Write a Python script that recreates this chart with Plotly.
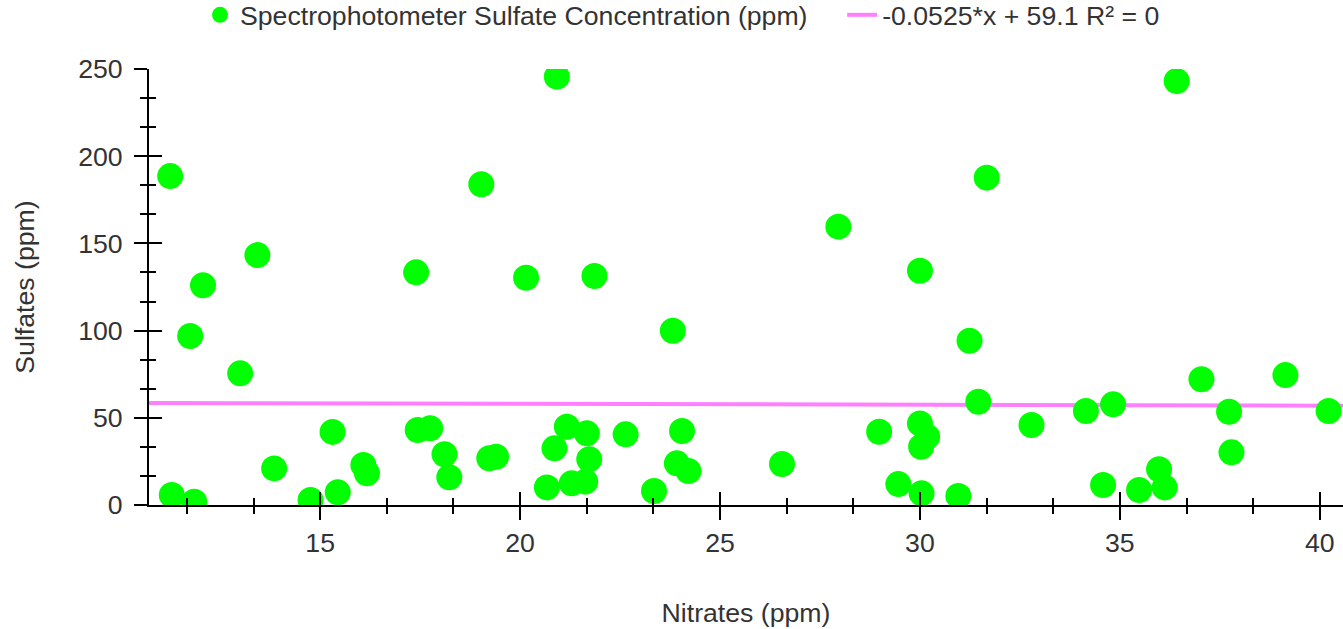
import plotly.graph_objects as go

# Data
nitrates = [11.25, 11.29, 11.85, 11.75, 12.07, 13.0, 13.43, 13.85, 14.76, 15.31,
            15.44, 16.08, 16.17, 17.4, 17.44, 17.75, 18.11, 18.23, 19.03, 19.23,
            19.4, 20.15, 20.92, 20.67, 20.86, 21.17, 21.29, 21.67, 21.63, 21.73,
            21.86, 22.64, 23.35, 23.82, 24.05, 23.92, 24.21, 26.55, 27.96, 28.98,
            29.46, 30.0, 30.0, 30.18, 30.03, 30.04, 30.96, 31.24, 31.46, 31.67,
            32.79, 34.15, 34.58, 34.83, 35.48, 35.98, 36.12, 36.42, 37.04, 37.73,
            37.79, 39.14, 40.22]
sulfates = [188.6, 5.7, 1.9, 96.9, 126.0, 75.5, 143.3, 21.0, 2.9, 41.9,
            7.3, 22.9, 18.2, 133.4, 43.0, 44.0, 29.1, 15.9, 183.9, 26.8,
            27.7, 130.3, 245.6, 10.1, 32.5, 44.9, 12.4, 41.1, 13.4, 26.2,
            131.3, 40.5, 8.0, 99.9, 42.4, 23.9, 19.5, 23.5, 159.6, 42.0,
            12.0, 134.3, 46.8, 39.2, 33.4, 6.7, 5.2, 94.2, 59.2, 187.7,
            45.9, 53.9, 11.5, 57.7, 8.6, 20.5, 10.1, 243.1, 72.1, 53.5,
            30.2, 74.5, 53.9]

trend_slope = -0.0525
trend_intercept = 59.1
trend_label = "-0.0525*x + 59.1 R² = 0"
series_label = "Spectrophotometer Sulfate Concentration (ppm)"

x_range = [10.72, 40.58]
y_range = [0, 250]

FONT = "Arial, 'Liberation Sans', sans-serif"
FS = 26.67
TXT = "#333333"

trend_x = x_range
trend_y = [trend_slope * v + trend_intercept for v in trend_x]

fig = go.Figure()
fig.add_trace(go.Scatter(
    x=trend_x, y=trend_y, mode="lines", name=trend_label,
    line=dict(color="rgb(255,128,255)", width=4),
    hoverinfo="skip", legendrank=2,
))
fig.add_trace(go.Scatter(
    x=nitrates, y=sulfates, mode="markers",
    name=series_label + "\u00a0\u00a0\u00a0\u00a0",
    marker=dict(color="#00ff00", size=26, line=dict(width=0)),
    cliponaxis=True, legendrank=1,
))
# helper trace for the overlaid axes (inside half of the cross ticks)
fig.add_trace(go.Scatter(x=[], y=[], xaxis="x2", yaxis="y2",
                         showlegend=False, hoverinfo="skip"))

common_tick = dict(tickcolor="black", tickwidth=2, ticklen=13)
fig.update_layout(
    width=1343, height=629,
    margin=dict(l=149, r=0, t=69, b=124),
    paper_bgcolor="white", plot_bgcolor="white",
    font=dict(family=FONT, size=FS, color=TXT),
    showlegend=True,
    legend=dict(orientation="h", x=200 / 1343, xanchor="left", xref="container",
                y=1 - 15 / 629, yanchor="middle", yref="container",
                font=dict(family=FONT, size=FS, color=TXT),
                itemsizing="trace", traceorder="normal"),
    xaxis=dict(
        range=x_range, showline=True, linecolor="black", linewidth=2,
        ticks="outside", tick0=0, dtick=5, **common_tick,
        minor=dict(ticks="outside", tick0=0, dtick=5/3, ticklen=7,
                   tickwidth=2, tickcolor="black"),
        showgrid=False, zeroline=False,
        tickfont=dict(family=FONT, size=FS, color=TXT),
        title=dict(text="Nitrates (ppm)", standoff=46,
                   font=dict(family=FONT, size=FS, color=TXT)),
    ),
    yaxis=dict(
        range=y_range, showline=True, linecolor="black", linewidth=2,
        ticks="outside", tick0=0, dtick=50, **common_tick,
        minor=dict(ticks="outside", tick0=0, dtick=50/3, ticklen=7,
                   tickwidth=2, tickcolor="black"),
        showgrid=False, zeroline=False, ticklabelstandoff=6,
        tickfont=dict(family=FONT, size=FS, color=TXT),
        title=dict(text="Sulfates (ppm)", standoff=36,
                   font=dict(family=FONT, size=FS, color=TXT)),
    ),
    xaxis2=dict(
        range=x_range, overlaying="x", anchor="y", side="bottom",
        showline=False, ticks="inside", tick0=0, dtick=5, **common_tick,
        minor=dict(ticks="inside", tick0=0, dtick=5/3, ticklen=7,
                   tickwidth=2, tickcolor="black"),
        showticklabels=False, showgrid=False, zeroline=False,
    ),
    yaxis2=dict(
        range=y_range, overlaying="y", anchor="x", side="left",
        showline=False, ticks="inside", tick0=0, dtick=50, **common_tick,
        minor=dict(ticks="inside", tick0=0, dtick=50/3, ticklen=7,
                   tickwidth=2, tickcolor="black"),
        showticklabels=False, showgrid=False, zeroline=False,
    ),
)

fig.write_html("out.html", config={"displayModeBar": False},
               post_script="document.body.style.margin='0';")
